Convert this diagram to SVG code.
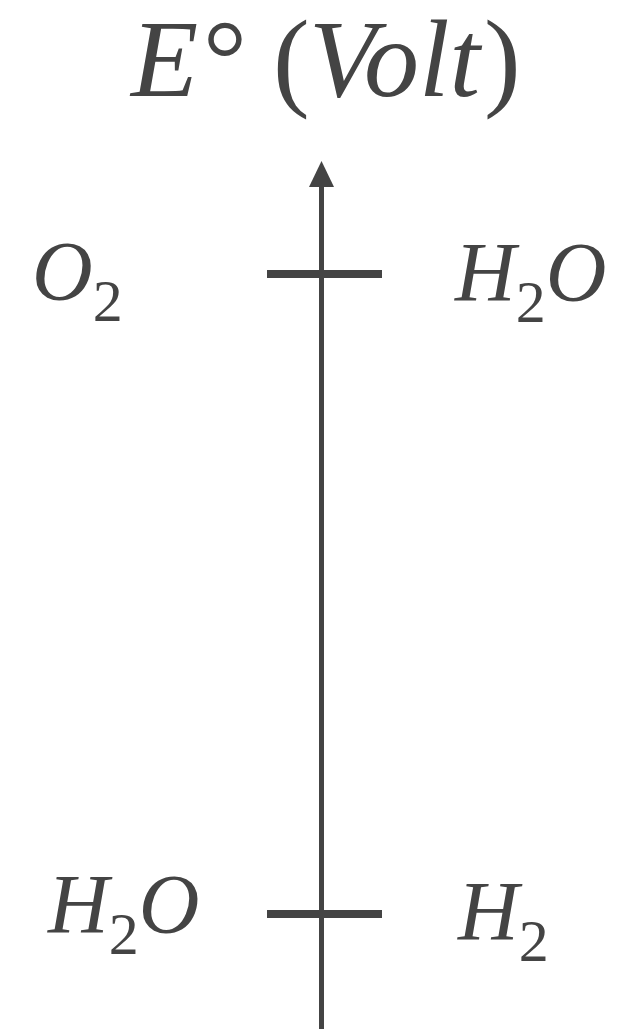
<svg xmlns="http://www.w3.org/2000/svg" width="620" height="1033" viewBox="0 0 620 1033">
  <style>
    .ax { stroke: #444444; fill: none; }
  </style>
  <g id="title">
    <text x="131" y="96" font-family="Liberation Serif" font-size="110" font-style="italic" fill="#444444">E</text>
    <text x="203" y="96" font-family="Liberation Serif" font-size="110" fill="#444444">°</text>
    <text x="273" y="96" font-family="Liberation Serif" font-size="110" fill="#444444">(</text>
    <text x="309" y="96" font-family="Liberation Serif" font-size="110" font-style="italic" fill="#444444">Volt</text>
    <text x="484" y="96" font-family="Liberation Serif" font-size="110" fill="#444444">)</text>
  </g>
  <g id="connectors">
    <line class="ax" x1="321.5" y1="1029" x2="321.5" y2="186" stroke-width="5"/>
    <polygon points="321.5,161 309,187 334,187" fill="#444444"/>
  </g>
  <g id="tick-top">
    <line class="ax" x1="267" y1="274" x2="382" y2="274" stroke-width="8"/>
  </g>
  <g id="tick-bottom">
    <line class="ax" x1="267" y1="914" x2="382" y2="914" stroke-width="8"/>
  </g>
  <g id="label-O2">
    <text x="32" y="300" font-family="Liberation Serif" font-size="84" font-style="italic" fill="#444444">O<tspan font-size="60" font-style="normal" dy="21">2</tspan></text>
  </g>
  <g id="label-H2O-top">
    <text x="455" y="301" font-family="Liberation Serif" font-size="84" font-style="italic" fill="#444444">H<tspan font-size="60" font-style="normal" dy="21">2</tspan><tspan dy="-21">O</tspan></text>
  </g>
  <g id="label-H2O-bottom">
    <text x="48" y="933" font-family="Liberation Serif" font-size="84" font-style="italic" fill="#444444">H<tspan font-size="60" font-style="normal" dy="21">2</tspan><tspan dy="-21">O</tspan></text>
  </g>
  <g id="label-H2">
    <text x="458" y="940" font-family="Liberation Serif" font-size="84" font-style="italic" fill="#444444">H<tspan font-size="60" font-style="normal" dy="21">2</tspan></text>
  </g>
</svg>
